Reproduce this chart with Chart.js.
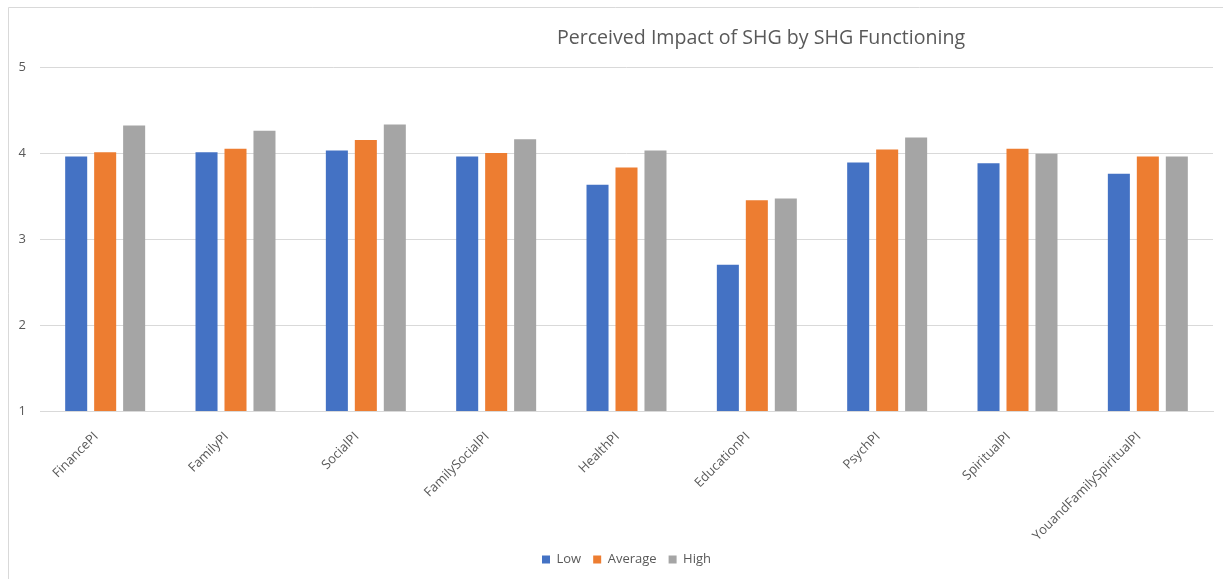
<!DOCTYPE html>
<html>
<head>
<meta charset="utf-8">
<title>Perceived Impact of SHG by SHG Functioning</title>
<script src="https://cdn.jsdelivr.net/npm/chart.js@4/dist/chart.umd.min.js"></script>
<style>
  html, body { margin: 0; padding: 0; background: #ffffff; }
  #wrap { position: relative; width: 1227px; height: 579px; }
</style>
</head>
<body>
<div id="wrap"><canvas id="chart" width="1227" height="579"></canvas></div>
<script>
// Mean perceived-impact scores by SHG functioning level
const chartTitle = 'Perceived Impact of SHG by SHG Functioning';
const categories = ['FinancePI', 'FamilyPI', 'SocialPI', 'FamilySocialPI', 'HealthPI',
                    'EducationPI', 'PsychPI', 'SpiritualPI', 'YouandFamilySpiritualPI'];
const lowValues     = [3.96, 4.01, 4.03, 3.96, 3.63, 2.70, 3.89, 3.88, 3.76];
const averageValues = [4.01, 4.05, 4.15, 4.00, 3.83, 3.45, 4.04, 4.05, 3.96];
const highValues    = [4.32, 4.26, 4.33, 4.16, 4.03, 3.47, 4.18, 3.99, 3.96];
const yTicks = [1, 2, 3, 4, 5];

const textColor = '#595959';
const gridColor = '#d9d9d9';
const fontFamily = '"Open Sans", "Liberation Sans", sans-serif';

// Frame lines and the title, painted directly on the canvas
const framePlugin = {
  id: 'frame',
  beforeDraw(chart) {
    const ctx = chart.ctx;
    ctx.save();
    ctx.fillStyle = '#ffffff';
    ctx.fillRect(0, 0, chart.width, chart.height);
    ctx.strokeStyle = gridColor;
    ctx.lineWidth = 1;
    ctx.beginPath();
    ctx.moveTo(8.5, chart.height);
    ctx.lineTo(8.5, 7.5);
    ctx.lineTo(chart.width - 4, 7.5);
    ctx.stroke();
    ctx.restore();
  },
  afterDraw(chart) {
    const ctx = chart.ctx;
    ctx.save();
    ctx.font = '19.6px ' + fontFamily;
    ctx.fillStyle = textColor;
    ctx.textAlign = 'center';
    ctx.textBaseline = 'middle';
    ctx.fillText(chartTitle, 761, 38);
    ctx.restore();
  }
};

new Chart(document.getElementById('chart'), {
  type: 'bar',
  data: {
    labels: categories,
    datasets: [
      { label: 'Low', data: lowValues, backgroundColor: '#4472C4' },
      { label: 'Average', data: averageValues, backgroundColor: '#ED7D31' },
      { label: 'High', data: highValues, backgroundColor: '#A5A5A5' }
    ]
  },
  options: {
    responsive: false,
    animation: false,
    layout: { padding: { top: 67, right: 14, bottom: 3, left: 0 } },
    datasets: { bar: { categoryPercentage: 0.667, barPercentage: 0.76 } },
    plugins: {
      title: { display: false },
      tooltip: { enabled: false },
      legend: {
        position: 'bottom',
        fullSize: false,
        labels: {
          boxWidth: 8, boxHeight: 8, padding: 12,
          color: textColor,
          font: { family: fontFamily, size: 13 }
        }
      }
    },
    scales: {
      x: {
        grid: { display: false },
        border: { display: true, color: gridColor },
        ticks: {
          color: textColor,
          font: { family: fontFamily, size: 13 },
          minRotation: 45, maxRotation: 45,
          autoSkip: false,
          labelOffset: -9,
          padding: 10
        },
        afterFit(axis) { axis.height = 130; }
      },
      y: {
        min: 1, max: 5,
        afterBuildTicks(axis) { axis.ticks = yTicks.map(v => ({ value: v })); },
        grid: { color: gridColor, drawTicks: false },
        border: { display: false },
        ticks: {
          color: textColor,
          font: { family: fontFamily, size: 13 },
          padding: 14
        },
        afterFit(axis) { axis.width = 40; }
      }
    }
  },
  plugins: [framePlugin]
});
</script>
</body>
</html>
